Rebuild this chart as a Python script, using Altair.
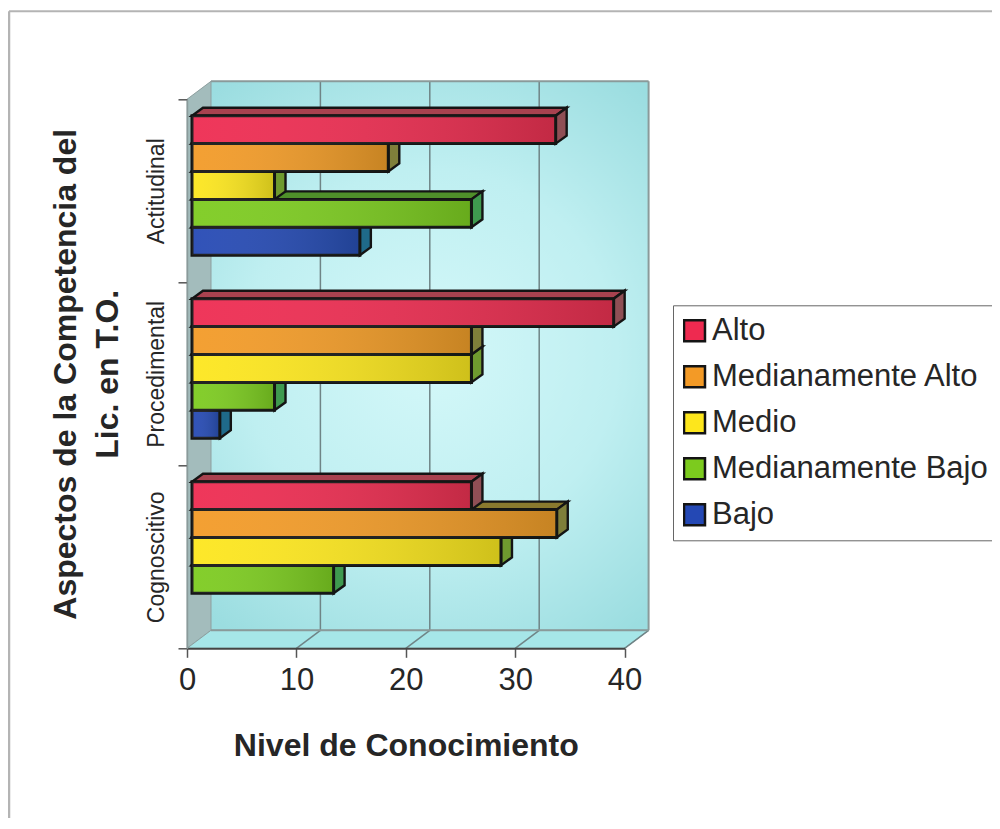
import altair as alt
import pandas as pd

# ---------- values ----------
groups = ["Cognoscitivo", "Procedimental", "Actitudinal"]      # bottom to top on the axis
series = ["Alto", "Medianamente Alto", "Medio", "Medianamente Bajo", "Bajo"]
alto = [26, 39, 33.7]
med_alto = [33.8, 26, 18.4]
medio = [28.7, 26, 8]
med_bajo = [13.4, 8, 26]
bajo = [0, 3, 15.8]
series_values = [alto, med_alto, medio, med_bajo, bajo]

front_colors = ["#ee2a50", "#f39a26", "#fde61c", "#7ccb1e", "#2448b4"]
top_colors = ["#a8424f", "#8a7a2e", "#8a9a20", "#4f8f2a", "#1f5f8a"]
side_colors = ["#8f4f55", "#7f7f3a", "#6f9a2f", "#3f9a4f", "#1f6a8a"]

x_ticks = [0, 10, 20, 30, 40]

# ---------- geometry of the pseudo-3D box, in data units ----------
W, H = 437.6, 549.0
PX_X = 40 / W
PX_Y = 3 / H
WALL_DX, WALL_DY = 24 * PX_X, 18 * PX_Y
BAR_DX, BAR_DY = 11 * PX_X, 8 * PX_Y
BAR_H = 27.9 * PX_Y
BAR_GAP_TOP = 16.4 * PX_Y
BAR_START = 5 * PX_X

xs = alt.Scale(domain=[0, 40], nice=False, zero=False)
ys = alt.Scale(domain=[0, 3], nice=False, zero=False)

# ---------- faces (top + side) as polygons drawn from lower bars to upper bars ----------
poly_rows, front_rows = [], []
n = 0
for g, gname in enumerate(groups):
    for s in range(len(series) - 1, -1, -1):
        v = series_values[s][g]
        if v <= 0:
            continue
        top = g + 1 - BAR_GAP_TOP - s * BAR_H
        bot = top - BAR_H
        x0, x1 = BAR_START, v
        front_rows.append(dict(x=x0, x2=x1, y=top, y2=bot, serie=series[s], grupo=gname))
        # top face
        for px, a, b in [(x0, top, top), (x0 + BAR_DX, top, top + BAR_DY),
                         (x1, top, top + BAR_DY), (x1 + BAR_DX, top + BAR_DY, top + BAR_DY)]:
            poly_rows.append(dict(poly=f"{n:03d}", x=px, y=a, y2=b, fill=top_colors[s]))
        n += 1
        # side face
        for px, a, b in [(x1, bot, top), (x1 + BAR_DX, bot + BAR_DY, top + BAR_DY)]:
            poly_rows.append(dict(poly=f"{n:03d}", x=px, y=a, y2=b, fill=side_colors[s]))
        n += 1
faces = pd.DataFrame(poly_rows)
fronts = pd.DataFrame(front_rows)

# ---------- walls ----------
walls = pd.DataFrame([
    dict(poly="a", x=0, y=0, y2=3, fill="#a3bcbc"),
    dict(poly="a", x=WALL_DX, y=WALL_DY, y2=3 + WALL_DY, fill="#a3bcbc"),
    dict(poly="b", x=0, y=0, y2=0, fill="#a6e6e8"),
    dict(poly="b", x=WALL_DX, y=0, y2=WALL_DY, fill="#a6e6e8"),
    dict(poly="b", x=40, y=0, y2=WALL_DY, fill="#a6e6e8"),
    dict(poly="b", x=40 + WALL_DX, y=WALL_DY, y2=WALL_DY, fill="#a6e6e8"),
])
back = pd.DataFrame([dict(x=WALL_DX, x2=40 + WALL_DX, y=WALL_DY, y2=3 + WALL_DY)])
grid_back = pd.DataFrame([dict(x=t + WALL_DX, y=WALL_DY, y2=3 + WALL_DY) for t in x_ticks[1:-1]])
grid_floor = pd.DataFrame([dict(x=t, x2=t + WALL_DX, y=0, y2=WALL_DY) for t in x_ticks[1:]])
floor_line = pd.DataFrame([dict(x=WALL_DX, x2=40 + WALL_DX, y=WALL_DY),
                           dict(x=WALL_DX, x2=40 + WALL_DX, y=3 + WALL_DY)])
right_edge = pd.DataFrame([dict(x=40 + WALL_DX, y=WALL_DY, y2=3 + WALL_DY)])

FONT = "Liberation Sans"
TXT = "#262626"

x_axis = alt.Axis(values=x_ticks, grid=False, title="Nivel de Conocimiento",
                  labelFont=FONT, labelFontSize=31, labelColor=TXT, labelPadding=8, labelFlush=False,
                  titleFont=FONT, titleFontSize=32, titleFontWeight="bold", titleColor=TXT,
                  titlePadding=35, tickSize=9, tickColor="#555555", tickWidth=1.5,
                  domainColor="#444444", domainWidth=2, zindex=1)
y_axis = alt.Axis(values=[0, 0.5, 1, 1.5, 2, 2.5, 3], grid=False,
                  title=["Aspectos de la Competencia del", "Lic. en T.O."],
                  labelExpr="datum.value==2.5?'Actitudinal':datum.value==1.5?'Procedimental':datum.value==0.5?'Cognoscitivo':''",
                  labelAngle=270, labelAlign="center", labelBaseline="bottom", labelOverlap=False,
                  labelFlush=False,
                  labelFont=FONT, labelFontSize=23, labelColor=TXT, labelPadding=10,
                  titleFont=FONT, titleFontSize=32, titleFontWeight="bold", titleColor=TXT,
                  titlePadding=21, titleLineHeight=42, tickSize=9, tickColor="#555555", tickWidth=1.5,
                  tickOpacity={"condition": {"test": "datum.value % 1 === 0", "value": 1}, "value": 0},
                  domainColor="#8a9a9a", domainWidth=1.5, zindex=1)

def X():
    return alt.X("x:Q", scale=xs, axis=x_axis)

def Y():
    return alt.Y("y:Q", scale=ys, axis=y_axis)

wall_grad = alt.Gradient(
    gradient="radial", x1=0.5, y1=0.5, x2=0.5, y2=0.5, r1=0, r2=0.62,
    stops=[alt.GradientStop(offset=0, color="#d4f8f9"),
           alt.GradientStop(offset=0.55, color="#bfeff1"),
           alt.GradientStop(offset=1, color="#9bdde0")])
shade = alt.Gradient(
    gradient="linear", x1=0, y1=0, x2=1, y2=0,
    stops=[alt.GradientStop(offset=0, color="rgba(255,255,255,0.06)"),
           alt.GradientStop(offset=1, color="rgba(20,40,20,0.2)")])

frame_left = alt.Chart(pd.DataFrame({"k": [0]})).mark_rule(color="#b4b4b4", strokeWidth=2.5).encode(
    x=alt.value(-178), y=alt.value(-88), y2=alt.value(720))
frame_top = alt.Chart(pd.DataFrame({"k": [0]})).mark_rule(color="#b4b4b4", strokeWidth=2).encode(
    x=alt.value(-178), x2=alt.value(813), y=alt.value(-88))

wall_back = alt.Chart(back).mark_rect(color=wall_grad).encode(
    x=X(), x2="x2:Q", y=Y(), y2="y2:Q")
wall_side = alt.Chart(walls).mark_area(orient="vertical", stroke="#8d9f9f", strokeWidth=1).encode(
    x=X(), y=Y(), y2="y2:Q", detail="poly:N", color=alt.Color("fill:N", scale=None))
g_back = alt.Chart(grid_back).mark_rule(color="#6f8486", strokeWidth=1.5).encode(x=X(), y=Y(), y2="y2:Q")
g_floor = alt.Chart(grid_floor).mark_rule(color="#6f8486", strokeWidth=1.5).encode(
    x=X(), x2="x2:Q", y=Y(), y2="y2:Q")
g_line = alt.Chart(floor_line).mark_rule(color="#8a9a9a", strokeWidth=2).encode(x=X(), x2="x2:Q", y=Y())
g_right = alt.Chart(right_edge).mark_rule(color="#8a9a9a", strokeWidth=2).encode(x=X(), y=Y(), y2="y2:Q")

face_marks = alt.Chart(faces).mark_area(orient="vertical", stroke="#141414", strokeWidth=2.4, opacity=1).encode(
    x=X(), y=Y(), y2="y2:Q", detail="poly:N", color=alt.Color("fill:N", scale=None))
front_marks = alt.Chart(fronts).mark_rect(stroke="#141414", strokeWidth=3).encode(
    x=X(), x2="x2:Q", y=Y(), y2="y2:Q",
    color=alt.Color("serie:N", sort=series,
                    scale=alt.Scale(domain=series, range=front_colors),
                    legend=alt.Legend(
                        title=None, orient="none", legendX=486, legendY=206,
                        fillColor="white", strokeColor="#666666", padding=10,
                        symbolType="square", symbolSize=440, symbolStrokeColor="#141414",
                        symbolStrokeWidth=2.5, symbolOpacity=1,
                        labelFont=FONT, labelFontSize=31, labelColor=TXT, labelOffset=2,
                        labelLimit=400, rowPadding=14, symbolOffset=-4, clipHeight=31)))
front_shade = alt.Chart(fronts).mark_rect(color=shade).encode(x=X(), x2="x2:Q", y=Y(), y2="y2:Q")

chart = alt.layer(
    frame_left, frame_top, wall_back, wall_side, g_back, g_floor, g_line, g_right,
    face_marks, front_marks, front_shade,
).resolve_scale(color="independent").properties(
    width=W, height=H,
    padding={"left": 179, "top": 91.3, "right": 367.4, "bottom": 169.7},
    autosize=alt.AutoSizeParams(type="none"),
    background="white",
).configure_view(stroke=None)

chart.save("out.html", embed_options={"renderer": "svg", "actions": False})
